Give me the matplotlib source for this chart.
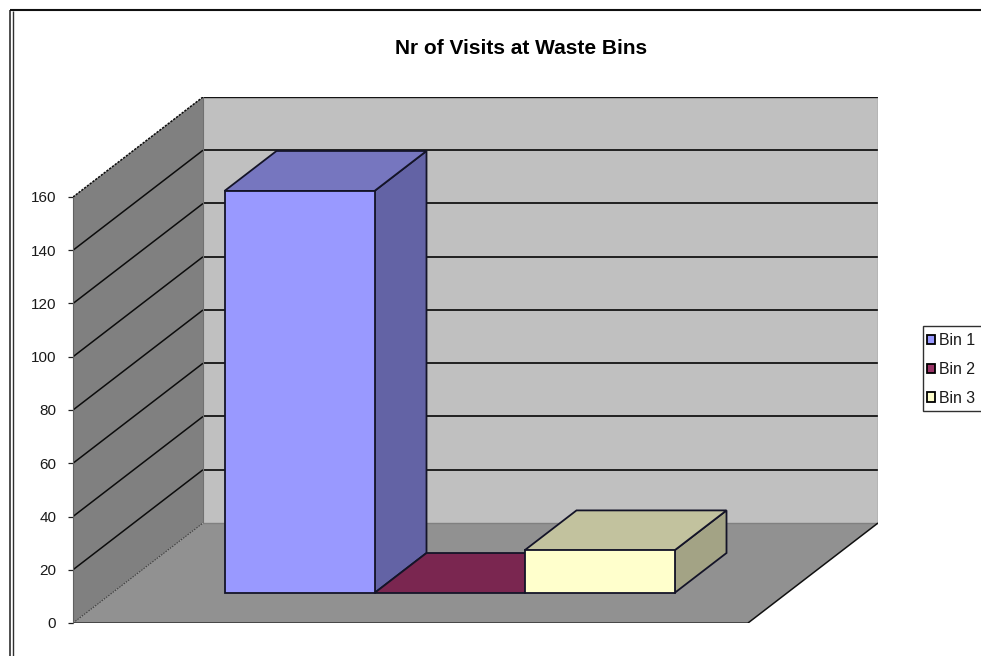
import matplotlib
matplotlib.use("Agg")
import matplotlib.pyplot as plt
from matplotlib.lines import Line2D
from matplotlib.patches import Patch, Polygon, Rectangle

plt.rcParams['font.family'] = ['Liberation Sans', 'DejaVu Sans']

# data
bins = ["Bin 1", "Bin 2", "Bin 3"]
visits = [151, 0, 16]
yticks = [0, 20, 40, 60, 80, 100, 120, 140, 160]
title = "Nr of Visits at Waste Bins"

# colours per bin: front, top, side, legend swatch
front_cols = ["#9999FF", "#7A2650", "#FFFFCC"]
top_cols = ["#7676BF", "#7A2650", "#C2C29E"]
side_cols = ["#6363A5", "#5C1D3C", "#A3A385"]
legend_cols = ["#9999FF", "#993366", "#FFFFCC"]

W, H = 981, 656
PX_X = 150.0      # pixels per bar width
PX_Y = 2.6625     # pixels per visit
DX = 130 / PX_X   # oblique shift of the full depth, in bar widths
DY = 100 / PX_Y   # same, in visits
FLOOR_W = 675 / PX_X
YMAX = 160
BAR_D0, BAR_D1 = 0.3, 0.7
GAP = 0.75


def proj(x, d, v):
    # oblique projection: x along the front, d into the chart (0-1), v up
    return (x + d * DX, v + d * DY)


def face(ax, pts, fc, ec="none", lw=0, z=1):
    ax.add_patch(Polygon([proj(*p) for p in pts], closed=True, fc=fc, ec=ec, lw=lw,
                         zorder=z, joinstyle="miter"))


def edge(ax, p0, p1, **kw):
    a, b = proj(*p0), proj(*p1)
    ax.plot([a[0], b[0]], [a[1], b[1]], solid_capstyle="butt", **kw)


fig = plt.figure(figsize=(W / 100, H / 100), dpi=100)
ax = fig.add_axes([73 / W, (H - 623) / H, (878 - 73) / W, (623 - 97) / H])
ax.set_xlim(0, (878 - 73) / PX_X)
ax.set_ylim(0, (623 - 97) / PX_Y)
ax.patch.set_visible(False)

# walls and floor
face(ax, [(0, 1, 0), (FLOOR_W, 1, 0), (FLOOR_W, 1, YMAX), (0, 1, YMAX)], "#C0C0C0", z=1)
face(ax, [(0, 0, 0), (0, 1, 0), (0, 1, YMAX), (0, 0, YMAX)], "#808080", z=1)
face(ax, [(0, 0, 0), (FLOOR_W, 0, 0), (FLOOR_W, 1, 0), (0, 1, 0)], "#919191", z=1)

# gridlines run along the side wall then the back wall
for v in yticks[1:]:
    is_top = v == yticks[-1]
    edge(ax, (0, 0, v), (0, 1, v), color="#0c0c0c", lw=1.1, ls=(0, (1.5, 0.8)) if is_top else "-", zorder=2)
    edge(ax, (0, 1, v), (FLOOR_W, 1, v), color="#141414", lw=1.3 if not is_top else 1.0, zorder=2)

# plot area outlines
edge(ax, (0, 0, 0), (0, 1, 0), color="#404040", lw=0.8, ls=(0, (1.5, 1)), zorder=2)
edge(ax, (0, 1, 0), (FLOOR_W, 1, 0), color="#808080", lw=1.0, zorder=2)
edge(ax, (0, 1, 0), (0, 1, YMAX), color="#707070", lw=0.8, zorder=2)
edge(ax, (FLOOR_W, 1, 0), (FLOOR_W, 1, YMAX), color="#8C8C8C", lw=1.0, zorder=2)
edge(ax, (0, 0, 0), (FLOOR_W, 0, 0), color="#303030", lw=1.8, zorder=2)
edge(ax, (FLOOR_W, 0, 0), (FLOOR_W, 1, 0), color="#101010", lw=1.1, zorder=2)

# bars, one bar width each, side by side
for i, v in enumerate(visits):
    x0, x1 = GAP + i, GAP + i + 1
    d0, d1 = BAR_D0, BAR_D1
    ec = "#141428"
    face(ax, [(x1, d0, 0), (x1, d1, 0), (x1, d1, v), (x1, d0, v)], side_cols[i], ec, 1.3, 3)
    face(ax, [(x0, d0, v), (x1, d0, v), (x1, d1, v), (x0, d1, v)], top_cols[i], ec, 1.3, 3)
    if v > 0:
        face(ax, [(x0, d0, 0), (x1, d0, 0), (x1, d0, v), (x0, d0, v)], front_cols[i], ec, 1.3, 3)

# value axis
for s in ["top", "right", "bottom"]:
    ax.spines[s].set_visible(False)
ax.spines["left"].set_bounds(0, YMAX)
ax.spines["left"].set_color("#606060")
ax.spines["left"].set_zorder(4)
ax.set_xticks([])
ax.set_yticks(yticks)
ax.tick_params(axis="y", length=3.8, width=0.9, color="#202020", pad=8.3,
               labelsize=11, labelcolor="#1a1a1a")

fig.text(521 / W, 1 - 48 / H, title, ha="center", va="center", fontsize=15, fontweight="bold", color="black")

# legend frame runs off the right hand side
fig.add_artist(Rectangle((922.5 / W, 1 - 411 / H), 70 / W, 85 / H, fc="white", ec="#303030", lw=1.0,
                         transform=fig.transFigure, zorder=3))
handles = [Patch(fc=c, ec="black", lw=1.3) for c in legend_cols]
leg = fig.legend(handles, bins, loc="upper left", bbox_to_anchor=(927 / W, 1 - 333 / H), borderaxespad=0,
                 fontsize=11.4, handlelength=0.52, handleheight=0.52, handletextpad=0.25,
                 labelspacing=0.87, borderpad=0, frameon=False, labelcolor="#1a1a1a")
leg.set_zorder(4)

# double border round the whole chart object
for xs, ys, c, lw in [
    ([10, 10], [656, 9.5], "#303030", 1.2),
    ([10, 981], [9.5, 9.5], "#101010", 1.5),
    ([12.5, 12.5], [656, 11], "#303030", 1.0),
]:
    fig.add_artist(Line2D([x / W for x in xs], [1 - y / H for y in ys], color=c, lw=lw, solid_capstyle="butt"))

fig.savefig("out.png", dpi=100)
